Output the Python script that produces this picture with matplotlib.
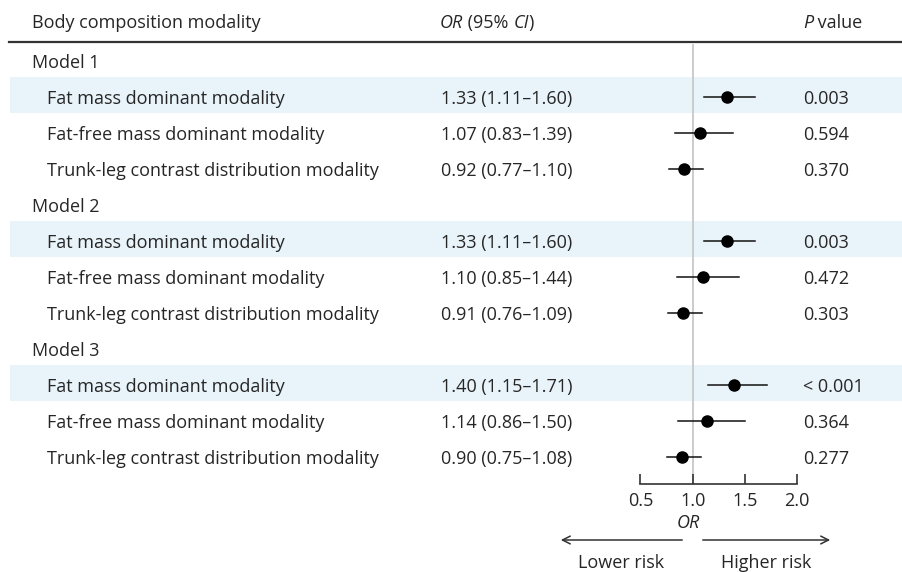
import matplotlib
matplotlib.use("Agg")
import matplotlib.pyplot as plt
from matplotlib.transforms import blended_transform_factory

plt.rcParams['font.family'] = ['Open Sans', 'DejaVu Sans']

models = ["Model 1", "Model 2", "Model 3"]
modalities = ["Fat mass dominant modality",
              "Fat-free mass dominant modality",
              "Trunk-leg contrast distribution modality"]
or_vals = [[1.33, 1.07, 0.92], [1.33, 1.10, 0.91], [1.40, 1.14, 0.90]]
ci_low = [[1.11, 0.83, 0.77], [1.11, 0.85, 0.76], [1.15, 0.86, 0.75]]
ci_high = [[1.60, 1.39, 1.10], [1.60, 1.44, 1.09], [1.71, 1.50, 1.08]]
p_vals = [["0.003", "0.594", "0.370"], ["0.003", "0.472", "0.303"], ["< 0.001", "0.364", "0.277"]]
xticks = [0.5, 1.0, 1.5, 2.0]

W, H = 903, 572
fig = plt.figure(figsize=(W / 100, H / 100), dpi=100)
ax = fig.add_axes([0, 0, 1, 1])

def px2or(px):
    return 1.0 + (px - 692.7) / 104.5

def py2row(py):
    return 1.0 + (py - 63) / 36.0

ax.set_xlim(px2or(0), px2or(W))
ax.set_ylim(py2row(H), py2row(0))

tc = '#262626'
fs = 13
bt = blended_transform_factory(ax.transAxes, ax.transData)

# header
hy = py2row(23)
ax.text(32 / W, hy, "Body composition modality", transform=bt, va='center', ha='left', fontsize=fs, color=tc)
t1 = ax.text(440 / W, hy, "OR", transform=bt, va='center', ha='left', fontsize=fs, color=tc, style='italic')
t2 = ax.annotate(" (95% ", xycoords=t1, xy=(1, 0), va='bottom', ha='left', fontsize=fs, color=tc)
t3 = ax.annotate("CI", xycoords=t2, xy=(1, 0), va='bottom', ha='left', fontsize=fs, color=tc, style='italic')
ax.annotate(")", xycoords=t3, xy=(1, 0), va='bottom', ha='left', fontsize=fs, color=tc)
tp = ax.text(803 / W, hy, "P", transform=bt, va='center', ha='left', fontsize=fs, color=tc, style='italic')
ax.annotate(" value", xycoords=tp, xy=(1, 0), va='bottom', ha='left', fontsize=fs, color=tc)

ax.plot([9 / W, 1], [py2row(41.7)] * 2, transform=bt, color='#333333', lw=1.6, clip_on=False)

# rows
k = 1
for m in range(3):
    ax.text(32 / W, k, models[m], transform=bt, va='center', ha='left', fontsize=fs, color=tc)
    k += 1
    for j in range(3):
        if j == 0:
            ax.axhspan(k - 0.6, k + 0.4, xmin=10 / W, xmax=1, color='#e9f3fa', lw=0, zorder=0)
        ax.text(47 / W, k, modalities[j], transform=bt, va='center', ha='left', fontsize=fs, color=tc)
        ax.text(441 / W, k, f"{or_vals[m][j]:.2f} ({ci_low[m][j]:.2f}\u2013{ci_high[m][j]:.2f})",
                transform=bt, va='center', ha='left', fontsize=fs, color=tc)
        ax.text(803 / W, k, p_vals[m][j], transform=bt, va='center', ha='left', fontsize=fs, color=tc)
        ax.plot([ci_low[m][j], ci_high[m][j]], [k - 0.05, k - 0.05], color='#111111', lw=1.1, zorder=3)
        ax.plot([or_vals[m][j]], [k - 0.05], 'o', color='black', ms=8, zorder=4)
        k += 1

# reference line
ax.plot([1.0, 1.0], [py2row(45), py2row(484)], color='#c8c8c8', lw=1.3, zorder=1)

# OR axis
for s in ['top', 'left', 'right']:
    ax.spines[s].set_visible(False)
ax.spines['bottom'].set_position(('data', py2row(484)))
ax.spines['bottom'].set_bounds(0.5, 2.0)
ax.spines['bottom'].set_color('#333333')
ax.spines['bottom'].set_linewidth(1.2)
ax.set_xticks(xticks)
ax.set_xticklabels([f"{v:.1f}" for v in xticks])
ax.tick_params(axis='x', direction='in', length=7, width=1.2, color='#333333',
               labelsize=fs, labelcolor=tc, pad=6)
ax.set_yticks([])
ax.patch.set_alpha(0)

ax.text(1.0 - 0.04, py2row(523), "OR", ha='center', va='center', fontsize=fs, color=tc, style='italic')

ya = py2row(540)
ax.annotate("", xy=(px2or(558), ya), xytext=(px2or(685), ya),
            arrowprops=dict(arrowstyle='->', color='#333333', lw=1.1, mutation_scale=14))
ax.annotate("", xy=(px2or(833), ya), xytext=(px2or(700), ya),
            arrowprops=dict(arrowstyle='->', color='#333333', lw=1.1, mutation_scale=14))
yr = py2row(563)
ax.text(px2or(621), yr, "Lower risk", ha='center', va='center', fontsize=fs, color=tc)
ax.text(px2or(766), yr, "Higher risk", ha='center', va='center', fontsize=fs, color=tc)

fig.savefig("out.png", dpi=100)
